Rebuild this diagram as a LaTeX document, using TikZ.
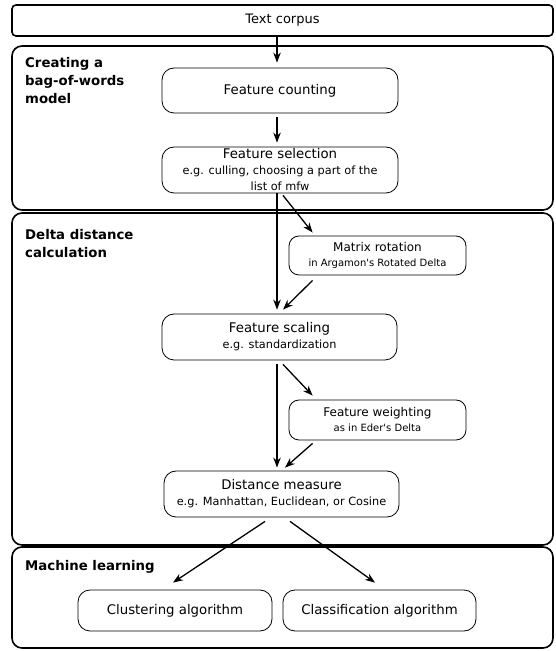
\documentclass[tikz,border=0pt]{standalone}
\usepackage{fontspec}
\setmainfont{DejaVu Sans}
\usetikzlibrary{arrows.meta, calc}

\newcommand{\bigf}{\fontsize{13.3}{16}\selectfont}
\newcommand{\midf}{\fontsize{12}{15}\selectfont}
\newcommand{\subf}{\fontsize{11.3}{14}\selectfont}
\newcommand{\notef}{\fontsize{10}{12}\selectfont}

\begin{document}
\begin{tikzpicture}[x=1pt, y=1pt,
        panel/.style={line width=1.6pt, rounded corners=10pt},
        paneltitle/.style={anchor=north west, inner sep=0pt, align=left, font=\fontsize{13.3}{18}\selectfont\bfseries},
        stage/.style={draw, line width=0.8pt, rounded corners=12pt, minimum width=236pt, minimum height=46pt, inner sep=0pt, align=center, font=\bigf},
        side/.style={draw, line width=0.8pt, rounded corners=10pt, minimum width=177pt, minimum height=40pt, inner sep=0pt, align=center, font=\midf},
        leaf/.style={stage, minimum width=194pt, minimum height=41pt},
        flow/.style={-{Stealth[length=10pt, width=7.5pt]}, line width=1.3pt}]
    \useasboundingbox (0,0) rectangle (555,651);
    \coordinate (spine) at (277,0);

    \node[draw, line width=1.6pt, rounded corners=4pt, minimum width=541pt, minimum height=31pt, inner sep=0pt, font=\fontsize{13}{16}\selectfont] (corpus) at (282.5,630.5) {Text corpus};

    \draw[panel] (12,441) rectangle (553,605);
    \draw[panel] (12,106) rectangle (553,438);
    \draw[panel] (12,3) rectangle (553,104);

    \node[paneltitle] (bowtitle) at (25,594) {Creating a\\bag-of-words\\model};
    \node[paneltitle] (deltatitle) at (25,422) {Delta distance\\calculation};
    \node[paneltitle] (mltitle) at (25,91) {Machine learning};

    \node[stage, minimum height=45pt] (count) at (280,560.5) {Feature counting};
    \node[stage] (select) at (280,481) {Feature selection\\\subf e.g. culling, choosing a part of the\\\subf list of mfw};
    \node[side, minimum height=39pt] (rot) at (377.5,395.5) {Matrix rotation\\\notef in Argamon\textquotesingle s Rotated Delta};
    \node[stage, minimum width=235pt] (scale) at (279.5,314) {Feature scaling\\\subf e.g. standardization};
    \node[side] (weight) at (377.5,231) {Feature weighting\\\notef as in Eder\textquotesingle s Delta};
    \node[stage, minimum width=235pt] (dist) at (281.5,157) {Distance measure\\\subf e.g. Manhattan, Euclidean, or Cosine};
    \node[leaf] (clust) at (175,40.5) {Clustering algorithm};
    \node[leaf, minimum width=193pt] (classif) at (379.5,40.5) {Classification algorithm};

    \begin{scope}[every path/.style={flow}]
        \draw[shorten >=5pt] (corpus.south -| spine) -- (count.north -| spine);
        \draw[shorten <=4pt, shorten >=4pt] (count.south -| spine) -- (select.north -| spine);
        \draw[shorten >=4pt] (select.south -| spine) -- (scale.north -| spine);
        \draw ($(select.south)+(3,-2)$) -- ($(rot.north west)+(24,3)$);
        \draw ($(rot.south west)+(24,-5)$) -- ($(scale.north)+(3.5,4)$);
        \draw[shorten <=4pt, shorten >=3pt] (scale.south -| spine) -- (dist.north -| spine);
        \draw ($(scale.south)+(3.5,-4)$) -- ($(weight.north west)+(24,4)$);
        \draw ($(weight.south west)+(24,-3)$) -- ($(dist.north)+(3.5,3)$);
        \draw ($(dist.south)+(-16.5,-4)$) -- ($(clust.north)+(-2,7)$);
        \draw ($(dist.south)+(8.5,-4)$) -- ($(classif.north)+(-4.5,7)$);
    \end{scope}
\end{tikzpicture}
\end{document}
